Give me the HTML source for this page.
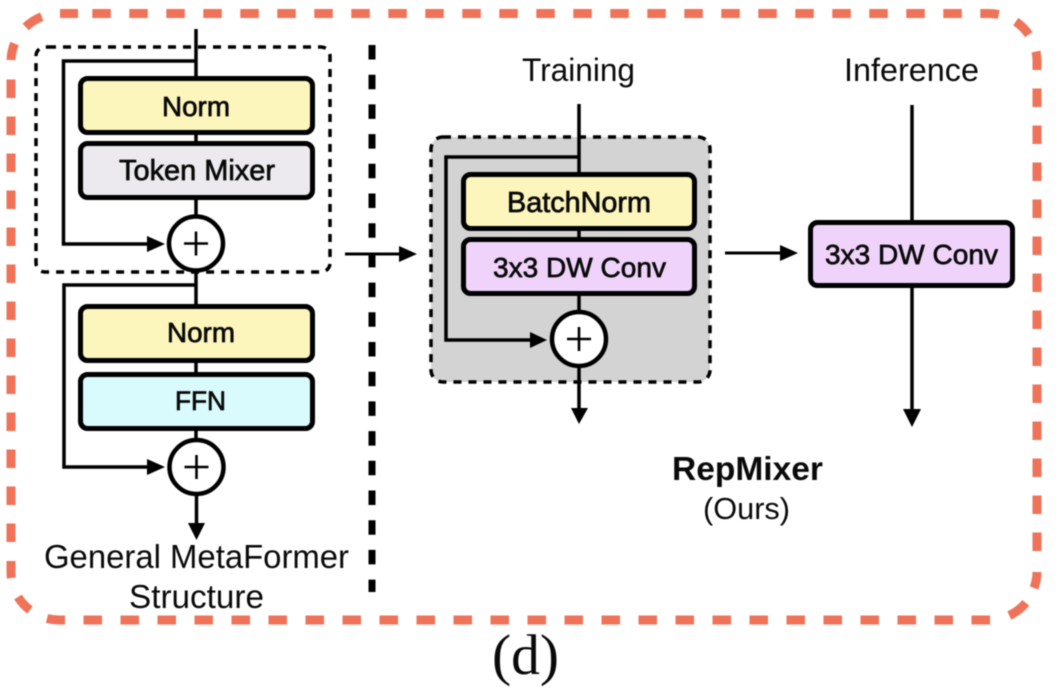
<!DOCTYPE html>
<html><head><meta charset="utf-8"><style>
html,body{margin:0;padding:0;background:#fff;width:1062px;height:698px;overflow:hidden}
svg{display:block;filter:blur(.4px)}
text{font-family:"Liberation Sans",sans-serif;fill:#0a0a0a;text-anchor:start}
.m{stroke:#0a0a0a;stroke-width:.7px}
.b{fill:none;stroke:#000;stroke-width:5}
.l{fill:none;stroke:#000;stroke-width:3.5}
.d{stroke:#000;stroke-width:3.5;stroke-dasharray:8 7}
.c{fill:#fff;stroke:#000;stroke-width:4.5}
.p{fill:none;stroke:#000;stroke-width:2.6}
.o{fill:none;stroke:#EF7358;stroke-width:9}
</style></head><body>
<svg width="1062" height="698" viewBox="0 0 1062 698" xmlns="http://www.w3.org/2000/svg">
<rect width="1062" height="698" fill="#fff"/>
<!-- outer dashed border -->
<path class="o" stroke-dasharray="18.5 18.5" d="M92.3 13.5H989A48 48 0 0 1 1037 61.5V552"/>
<path class="o" d="M1037 572A48 48 0 0 1 1034 588"/>
<path class="o" d="M1025.800 602.900A48 48 0 0 1 1009.300 615.500"/>
<path class="o" stroke-dasharray="18.5 18.500" d="M990 620H83.500"/>
<path class="o" d="M65 620H59A48 48 0 0 1 47 618.500"/>
<path class="o" d="M30 610A48 48 0 0 1 18 597"/>
<path class="o" d="M11.400 578A48 48 0 0 1 11 572V561"/>
<path class="o" stroke-dasharray="18.5 18.500" d="M11 542V79"/>
<path class="o" d="M11 60A48 48 0 0 1 14.500 43.500"/>
<path class="o" d="M25.700 27A48 48 0 0 1 41.800 16.700"/>
<path class="o" d="M60 13.500H78"/>

<path class="d" fill="none" d="M48 47H321A9 9 0 0 1 330 56V263A9 9 0 0 1 321 272H45A9 9 0 0 1 36 263V56A9 9 0 0 1 45 47Z"/>
<line x1="372" y1="45" x2="372" y2="592" stroke="#000" stroke-width="7" stroke-dasharray="14.5 15.2"/>

<!-- left upper -->
<path class="l" d="M196 29V78M196 133V143M196 198V216M196 61H63.5V244H150"/>
<polygon points="147,236 165,244 147,252" fill="#000"/>
<rect class="b" x="80.5" y="78.5" width="232" height="54" rx="7" style="fill:#FCF5BC"/>
<rect class="b" x="80.5" y="143.5" width="232" height="54" rx="7" style="fill:#ECEAEE"/>
<path class="l" d="M196 270V306M196 285H64V467H150M196 360V374M196 429V440M196.500 495V526"/>
<polygon points="147,459 165,467 147,475" fill="#000"/>
<polygon points="188,523 205,523 196.500,540" fill="#000"/>
<circle class="c" cx="196" cy="243.500" r="27"/>
<path class="p" d="M184 243.500H208M196 231.500V255.500"/>
<rect class="b" x="80.500" y="306.500" width="232" height="54" rx="7" style="fill:#FCF5BC"/>
<rect class="b" x="80.500" y="374.500" width="232" height="54" rx="7" style="fill:#DAFBFE"/>
<circle class="c" cx="196.500" cy="467" r="27"/>
<path class="p" d="M184.500 467H208.500M196.500 455V479"/>

<text class="m" x="162" y="116" font-size="28" textLength="68" lengthAdjust="spacingAndGlyphs">Norm</text>
<text class="m" x="119" y="180" font-size="28.500" textLength="156" lengthAdjust="spacingAndGlyphs">Token Mixer</text>
<text class="m" x="167" y="342" font-size="28" textLength="68" lengthAdjust="spacingAndGlyphs">Norm</text>
<text class="m" x="175" y="410" font-size="27" textLength="51" lengthAdjust="spacingAndGlyphs">FFN</text>
<text x="44" y="568" font-size="33" textLength="305" lengthAdjust="spacingAndGlyphs">General MetaFormer</text>
<text x="129" y="608" font-size="33" textLength="135" lengthAdjust="spacingAndGlyphs">Structure</text>

<!-- arrows between -->
<path class="l" d="M345 254H402" style="stroke-width:3"/>
<polygon points="399,246 417,254 399,262" fill="#000"/>
<path class="l" d="M725 253H782" style="stroke-width:3"/>
<polygon points="780,245 798,253 780,261" fill="#000"/>

<!-- training -->
<rect x="431" y="137" width="279" height="245" rx="12" fill="#D3D3D3" class="d"/>
<path class="l" d="M579 104V174M579 229V240M579 294V315M579 365V411M579 157H446V340H533"/>
<polygon points="530,332 547,340 530,348" fill="#000"/>
<polygon points="571,408 588,408 579,424" fill="#000"/>
<rect class="b" x="463.500" y="174.500" width="231" height="54" rx="7" style="fill:#FCF5BC"/>
<rect class="b" x="463.500" y="239.500" width="231" height="54" rx="7" style="fill:#EFD3FA"/>
<circle class="c" cx="579" cy="339" r="27"/>
<path class="p" d="M567 339H591M579 327V351"/>
<text x="522" y="81" font-size="32" textLength="113" lengthAdjust="spacingAndGlyphs">Training</text>
<text class="m" x="507" y="212" font-size="28.500" textLength="144" lengthAdjust="spacingAndGlyphs">BatchNorm</text>
<text class="m" x="493" y="277" font-size="28" textLength="173" lengthAdjust="spacingAndGlyphs">3x3 DW Conv</text>

<!-- inference -->
<path class="l" d="M912 105V222M912 286V412"/>
<polygon points="903,409 921,409 912,427" fill="#000"/>
<rect class="b" x="810.500" y="222.500" width="202" height="63" rx="7" style="fill:#EFD3FA"/>
<text x="844" y="81" font-size="32.500" textLength="135" lengthAdjust="spacingAndGlyphs">Inference</text>
<text class="m" x="825" y="264" font-size="28" textLength="173" lengthAdjust="spacingAndGlyphs">3x3 DW Conv</text>

<text x="672" y="480" font-size="33" font-weight="bold" textLength="151" lengthAdjust="spacingAndGlyphs">RepMixer</text>
<text x="703" y="519" font-size="31" textLength="87" lengthAdjust="spacingAndGlyphs">(Ours)</text>
<text x="492" y="674" font-size="57" textLength="67" lengthAdjust="spacingAndGlyphs" style="font-family:'Liberation Serif',serif">(d)</text>
</svg>
</body></html>
